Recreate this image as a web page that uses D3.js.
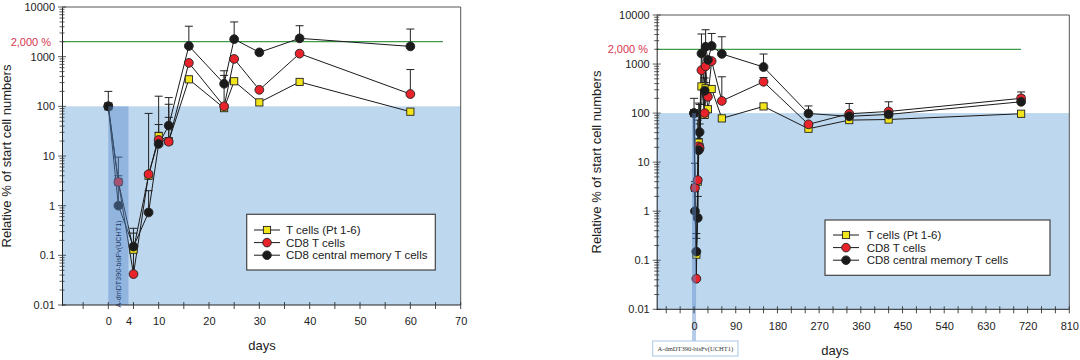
<!DOCTYPE html>
<html><head><meta charset="utf-8">
<script src="https://cdn.jsdelivr.net/npm/d3@7"></script>
<style>
html,body{margin:0;padding:0;background:#fff;}
svg{display:block;font-family:"Liberation Sans",Arial,Helvetica,sans-serif;}
</style></head>
<body>
<svg id="c" width="1080" height="360"></svg>
<script>
// ---- data ----
const days   = [0, 2, 5, 8, 10, 12, 16, 23, 25, 30, 38, 60, 150, 247, 335, 420, 706];
const tCells = [100, 3, 0.13, 4, 25, 20, 350, 92, 320, 120, 310, 78, 137, 48, 72, 74, 97];
const cd8    = [100, 3, 0.042, 4.3, 21, 19.4, 750, 100, 900, 215, 1150, 177, 435, 59, 97, 108, 200];
const cdCM   = [100, 1, 0.15, 0.73, 17.5, 41, 1640, 285, 2250, 1220, 2340, 1610, 870, 98, 86, 94, 170];
// upper error bar ends
const tErr   = [null, null, null, null, 30, 110, null, null, null, null, null, null, null, null, null, null, null];
const cd8Err = [null, 4, 0.28, 72, 43, 60, null, 420, null, null, null, 550, 530, null, null, null, 230];
const cmErr  = [200, 9.5, 0.35, 2, 160, 150, 4100, 520, 5000, null, 4200, 3600, 1600, 140, 157, 170, 270];

const seriesNames = ["T cells (Pt 1-6)", "CD8 T cells", "CD8 central memory T cells"];
const yTickValues = [0.01, 0.1, 1, 10, 100, 1000, 10000];
const yTickLabels = ["0.01", "0.1", "1", "10", "100", "1000", "10000"];
const leftXLabels  = [0, 4, 10, 20, 30, 40, 50, 60, 70];
const rightXLabels = [0, 90, 180, 270, 360, 450, 540, 630, 720, 810];
const refLevel = 2000, refLabel = "2,000 %";
const baseLevel = 100;
const treatStart = 0, treatEnd = 4;
const treatLabel = "A-dmDT390-bisFv(UCHT1)";
const xAxisTitle = "days", yAxisTitle = "Relative % of start cell numbers";

const series = [
  {name: seriesNames[0], vals: tCells, err: tErr, shape: "square", fill: "#f3e51b"},
  {name: seriesNames[1], vals: cd8, err: cd8Err, shape: "circle", fill: "#e8232b"},
  {name: seriesNames[2], vals: cdCM, err: cmErr, shape: "circle", fill: "#1b1b1b"}
];

const svg = d3.select("#c");

function drawPanel(cfg) {
  const g = svg.append("g");
  const x = d3.scaleLinear().domain(cfg.xDomain).range([cfg.x0, cfg.x1]);
  const y = d3.scaleLog().domain([0.01, 10000]).range([cfg.y1, cfg.y0]);
  const clipId = "clip" + cfg.id;
  svg.append("clipPath").attr("id", clipId).append("rect")
    .attr("x", cfg.x0).attr("y", cfg.y0 - 10).attr("width", cfg.x1 - cfg.x0).attr("height", cfg.y1 - cfg.y0 + 10);

  // light blue fill below 100%
  g.append("rect").attr("x", cfg.x0).attr("y", y(baseLevel))
    .attr("width", cfg.x1 - cfg.x0).attr("height", y(0.01) - y(baseLevel))
    .attr("fill", "#bdd7ee");

  // frame top & right
  g.append("line").attr("x1", cfg.x0).attr("x2", cfg.x1).attr("y1", cfg.y0).attr("y2", cfg.y0)
    .attr("stroke", "#555").attr("stroke-width", 1);
  g.append("line").attr("x1", cfg.x1).attr("x2", cfg.x1).attr("y1", cfg.y0).attr("y2", cfg.y1)
    .attr("stroke", "#555").attr("stroke-width", 1);

  // green reference line
  g.append("line").attr("x1", cfg.x0).attr("x2", cfg.greenEnd).attr("y1", y(refLevel)).attr("y2", y(refLevel))
    .attr("stroke", "#3f9a4c").attr("stroke-width", 1.2);
  g.append("text").attr("x", cfg.refLabelX).attr("y", y(refLevel) + 4).attr("text-anchor", "end")
    .attr("font-size", 11).attr("fill", "#d8344f").text(refLabel);

  // data
  const dg = g.append("g").attr("clip-path", `url(#${clipId})`);
  const idx = days.map((d, i) => i).filter(i => days[i] <= cfg.xDomain[1]);
  const line = d3.line().x(i => x(days[i]));
  // error bars
  series.forEach(s => {
    idx.forEach(i => {
      if (s.err[i] == null) return;
      const xx = x(days[i]);
      dg.append("line").attr("x1", xx).attr("x2", xx).attr("y1", y(s.vals[i])).attr("y2", y(s.err[i]))
        .attr("stroke", "#222").attr("stroke-width", 1);
      dg.append("line").attr("x1", xx - 4).attr("x2", xx + 4).attr("y1", y(s.err[i])).attr("y2", y(s.err[i]))
        .attr("stroke", "#222").attr("stroke-width", 1);
    });
  });
  series.forEach(s => {
    dg.append("path").datum(idx).attr("d", line.y(i => y(s.vals[i])))
      .attr("fill", "none").attr("stroke", "#1a1a1a").attr("stroke-width", 1);
  });
  series.forEach(s => {
    idx.forEach(i => {
      const xx = x(days[i]), yy = y(s.vals[i]);
      if (s.shape === "square") {
        dg.append("rect").attr("x", xx - 3.6).attr("y", yy - 3.6).attr("width", 7.2).attr("height", 7.2)
          .attr("fill", s.fill).attr("stroke", "#222").attr("stroke-width", 0.9);
      } else {
        dg.append("circle").attr("cx", xx).attr("cy", yy).attr("r", 4.4)
          .attr("fill", s.fill).attr("stroke", "#222").attr("stroke-width", 0.9);
      }
    });
  });

  // treatment band (overlay)
  const bx0 = x(treatStart);
  const bw = Math.max(x(treatEnd) - x(treatStart), cfg.minBand);
  g.append("rect").attr("x", bx0 - (cfg.minBand && bw === cfg.minBand ? bw / 2 : 0)).attr("y", y(baseLevel))
    .attr("width", bw).attr("height", cfg.bandBottom - y(baseLevel))
    .attr("fill", "rgb(90,140,205)").attr("fill-opacity", 0.45);

  if (cfg.inBandLabel) {
    const cx = bx0 + bw / 2, cy = cfg.bandLabelY;
    g.append("text").attr("transform", `translate(${cx + 2.5},${cy}) rotate(-90)`)
      .attr("text-anchor", "middle").attr("font-size", 7.2).attr("fill", "#1f3a66")
      .attr("font-family", "Liberation Sans Narrow, Liberation Sans, sans-serif").text(treatLabel);
  } else {
    const bxL = cfg.boxX0, bxR = cfg.boxX1;
    g.append("rect").attr("x", bxL).attr("y", cfg.bandBottom).attr("width", bxR - bxL).attr("height", 15)
      .attr("fill", "#fff").attr("stroke", "#a9c6e6").attr("stroke-width", 1);
    g.append("text").attr("x", (bxL + bxR) / 2).attr("y", cfg.bandBottom + 10).attr("text-anchor", "middle")
      .attr("font-size", 6.5).attr("fill", "#333").attr("font-family", "Liberation Serif, serif").text(treatLabel);
  }

  // y axis
  const ya = g.append("g").attr("transform", `translate(${cfg.x0},0)`)
    .call(d3.axisLeft(y).tickValues(yTickValues).tickFormat((d, i) => yTickLabels[i]).tickSize(0).tickPadding(7));
  ya.select(".domain").attr("stroke", "#222");
  ya.selectAll("text").attr("font-size", 11).attr("fill", "#222").attr("font-family", "Liberation Sans, Arial, sans-serif");
  // y ticks (major & minor) crossing axis
  const minor = [];
  for (let e = -2; e < 4; e++) for (let m = 1; m < 10; m++) minor.push(m * Math.pow(10, e));
  minor.push(10000);
  minor.forEach(v => {
    const major = Math.abs(Math.log10(v) - Math.round(Math.log10(v))) < 1e-9;
    const L = major ? 4 : 2.5;
    g.append("line").attr("x1", cfg.x0 - L).attr("x2", cfg.x0 + L).attr("y1", y(v)).attr("y2", y(v))
      .attr("stroke", "#333").attr("stroke-width", 0.8);
  });

  // x axis
  const xa = g.append("g").attr("transform", `translate(0,${cfg.y1})`)
    .call(d3.axisBottom(x).tickValues(cfg.xLabels).tickSize(0).tickPadding(cfg.xPad));
  xa.select(".domain").attr("stroke", "#222").attr("d", `M${cfg.x0},0H${cfg.x1}`);
  xa.selectAll("text").attr("font-size", 11).attr("fill", "#222").attr("font-family", "Liberation Sans, Arial, sans-serif");
  cfg.xTicks.forEach(v => {
    g.append("line").attr("x1", x(v)).attr("x2", x(v)).attr("y1", cfg.y1 - 3).attr("y2", cfg.y1 + 4)
      .attr("stroke", "#333").attr("stroke-width", 0.9);
  });

  // titles
  g.append("text").attr("x", cfg.daysX).attr("y", cfg.daysY).attr("text-anchor", "middle")
    .attr("font-size", 13).attr("fill", "#222").text(xAxisTitle);
  g.append("text").attr("transform", `translate(${cfg.yTitleX},${cfg.yTitleY}) rotate(-90)`)
    .attr("text-anchor", "middle").attr("font-size", 13).attr("fill", "#222").text(yAxisTitle);

  // legend
  const L = cfg.legend;
  g.append("rect").attr("x", L.x0).attr("y", L.y0).attr("width", L.x1 - L.x0).attr("height", L.y1 - L.y0)
    .attr("fill", "#fff").attr("stroke", "#444").attr("stroke-width", 1.2);
  series.forEach((s, k) => {
    const yy = L.rowY + k * 12.6;
    g.append("line").attr("x1", L.mx - 13).attr("x2", L.mx + 13).attr("y1", yy).attr("y2", yy)
      .attr("stroke", "#1a1a1a").attr("stroke-width", 1);
    if (s.shape === "square") {
      g.append("rect").attr("x", L.mx - 3.6).attr("y", yy - 3.6).attr("width", 7.2).attr("height", 7.2)
        .attr("fill", s.fill).attr("stroke", "#222").attr("stroke-width", 0.9);
    } else {
      g.append("circle").attr("cx", L.mx).attr("cy", yy).attr("r", 4.3)
        .attr("fill", s.fill).attr("stroke", "#222").attr("stroke-width", 0.9);
    }
    g.append("text").attr("x", L.tx).attr("y", yy + 4).attr("font-size", 11.5).attr("fill", "#222").text(s.name);
  });
}

const leftTicks = d3.range(-5, 71, 5);
const rightTicks = d3.range(-60, 811, 30);

drawPanel({
  id: "L", x0: 62, x1: 460.7, y0: 7, y1: 305, xDomain: [-9.2, 70],
  greenEnd: 443, refLabelX: 51, minBand: 0, bandBottom: 305, inBandLabel: true, bandLabelY: 264,
  xLabels: leftXLabels, xTicks: leftTicks, xPad: 12,
  daysX: 262, daysY: 350, yTitleX: 11, yTitleY: 156,
  legend: {x0: 246.7, x1: 435.3, y0: 214.3, y1: 270, rowY: 230, mx: 267, tx: 286}
});
drawPanel({
  id: "R", x0: 656.7, x1: 1069.3, y0: 15, y1: 309.3, xDomain: [-80.6, 810],
  greenEnd: 1021, refLabelX: 648, minBand: 4, bandBottom: 341, inBandLabel: false,
  boxX0: 652.7, boxX1: 738,
  xLabels: rightXLabels, xTicks: rightTicks, xPad: 13,
  daysX: 835, daysY: 355, yTitleX: 601, yTitleY: 162,
  legend: {x0: 825, x1: 1050, y0: 220, y1: 275.3, rowY: 235, mx: 846, tx: 866.7}
});
</script>
</body></html>
